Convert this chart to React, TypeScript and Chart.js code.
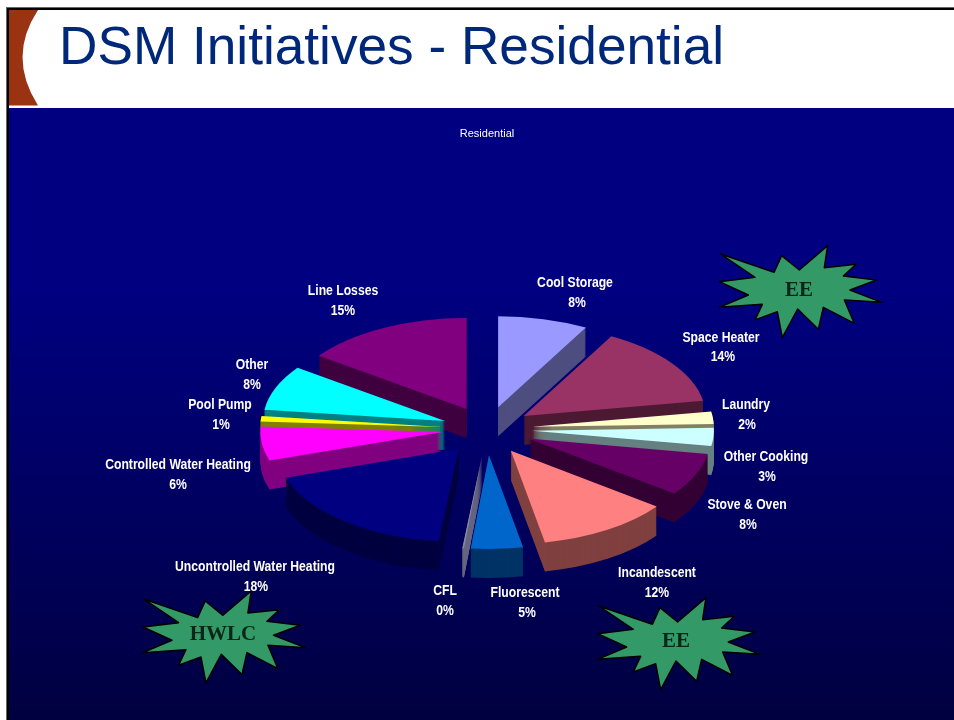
import React, { useEffect, useRef } from "react";
import { Chart, registerables } from "chart.js";

Chart.register(...registerables);

const categories = [
  "Cool Storage", "Space Heater", "Laundry", "Other Cooking", "Stove & Oven", "Incandescent",
  "Fluorescent", "CFL", "Uncontrolled Water Heating", "Controlled Water Heating", "Pool Pump", "Other", "Line Losses",
];
const shares = [8, 14.3, 2.2, 3.2, 7.5, 11.8, 4.6, 0.15, 18.2, 6, 1, 8, 15.05];
const percentLabels = ["8%", "14%", "2%", "3%", "8%", "12%", "5%", "0%", "18%", "6%", "1%", "8%", "15%"];
const topColors = ["#9999FF", "#993366", "#FFFFCC", "#CCFFFF", "#660066", "#FF8080", "#0066CC", "#8888AA", "#000080", "#FF00FF", "#FFFF00", "#00FFFF", "#800080"];
const wallColors = ["#4D4D80", "#4D1A33", "#808066", "#668080", "#330033", "#804040", "#003366", "#666680", "#000040", "#800080", "#808000", "#008080", "#400040"];

const labelNameAnchors = [
  [575, 283], [721, 338], [746, 405], [766, 457], [747, 505], [657, 573], [525, 593],
  [445, 591], [255, 567], [178, 465], [220, 405], [252, 365], [343, 291],
];
const labelPercentAnchors = [
  [577, 303], [723, 357], [747, 425], [767, 477], [748, 525], [657, 593], [527, 613],
  [445, 611], [256, 587], [178, 485], [221, 425], [252, 385], [343, 311],
];

const starOutline = [
  [62, 72], [222, 127], [245, 77], [298, 120], [383, 47], [373, 113], [468, 103], [430, 138], [530, 150], [450, 180],
  [545, 217], [433, 210], [463, 280], [370, 232], [355, 298], [293, 237], [247, 323], [232, 245], [165, 270], [187, 223],
  [58, 232], [145, 195], [58, 155], [165, 142],
];
const stars = [
  { text: "EE", dx: 0, dy: 0, tx: 799, ty: 291 },
  { text: "HWLC", dx: -576.4, dy: 345.3, tx: 223, ty: 635 },
  { text: "EE", dx: -121.7, dy: 352, tx: 676, ty: 642 },
];

const DEPTH = 29;
const EXPLODE = 45;

const wallOptions = (color: string) => ({
  backgroundColor: color, borderColor: color, borderWidth: 0, borderAlign: "center",
  borderRadius: 0, offset: 0, spacing: 0, circular: true, borderDash: [], borderDashOffset: 0, borderJoinStyle: "round",
});

const slidePlugin = {
  id: "slide",
  beforeDraw(chart: any) {
    const { ctx, width, height } = chart;
    ctx.save();
    ctx.fillStyle = "#ffffff";
    ctx.fillRect(0, 0, width, height);
    ctx.fillStyle = "#666666";
    ctx.fillRect(6, 7, width - 6, 1);
    ctx.fillRect(6, 7, 1, height - 7);
    ctx.fillStyle = "#000000";
    ctx.fillRect(7, 8, width - 7, 2);
    ctx.fillRect(7, 8, 2, height - 8);
    const g = ctx.createLinearGradient(0, 108, 0, 720);
    g.addColorStop(0, "#000080");
    g.addColorStop(0.3, "#000080");
    g.addColorStop(1, "#000040");
    ctx.fillStyle = g;
    ctx.fillRect(9, 108, width - 9, height - 108);
    ctx.fillStyle = "#993312";
    ctx.beginPath();
    ctx.moveTo(9, 10);
    ctx.lineTo(38, 10);
    ctx.quadraticCurveTo(7, 57, 38, 105.5);
    ctx.lineTo(9, 105.5);
    ctx.closePath();
    ctx.fill();
    ctx.fillStyle = "#00287A";
    ctx.font = "53.2px 'Liberation Sans'";
    ctx.textAlign = "left";
    ctx.textBaseline = "alphabetic";
    ctx.fillText("DSM Initiatives - Residential", 59, 64);
    ctx.restore();
  },
  beforeDatasetDraw() {
    return false;
  },
  afterDatasetsDraw(chart: any) {
    const { ctx } = chart;
    const arcs: any[] = chart.getDatasetMeta(0).data;
    const order = arcs
      .map((arc, i) => ({ arc, i, mid: (arc.startAngle + arc.endAngle) / 2 }))
      .sort((a, b) => Math.sin(a.mid) - Math.sin(b.mid));
    order.forEach(({ arc, i, mid }) => {
      const front = Math.max(0, Math.sin(mid));
      const ex = Math.cos(mid) * EXPLODE;
      const ey = Math.sin(mid) * EXPLODE * (0.5 + 0.08 * front);
      const squash = 0.5 + 0.015 * front;
      const place = (k: number) => {
        ctx.save();
        ctx.translate(arc.x + ex, arc.y + ey + k);
        ctx.scale(1, squash);
        ctx.translate(-arc.x, -arc.y);
        arc.draw(ctx);
        ctx.restore();
      };
      const own = arc.options;
      arc.options = wallOptions(wallColors[i]);
      for (let k = DEPTH; k >= 1; k--) place(k);
      arc.options = own;
      place(0);
    });
  },
  afterDraw(chart: any) {
    const { ctx } = chart;
    ctx.save();
    stars.forEach((s) => {
      ctx.beginPath();
      starOutline.forEach(([x, y], idx) => {
        const px = 700 + x / 3 + s.dx;
        const py = 230 + y / 3 + s.dy;
        if (idx === 0) ctx.moveTo(px, py);
        else ctx.lineTo(px, py);
      });
      ctx.closePath();
      ctx.fillStyle = "#339966";
      ctx.fill();
      ctx.lineWidth = 1.5;
      ctx.lineJoin = "round";
      ctx.strokeStyle = "#000000";
      ctx.stroke();
      ctx.fillStyle = "#06261A";
      ctx.font = "bold 21px 'Liberation Serif'";
      ctx.textAlign = "center";
      ctx.textBaseline = "middle";
      ctx.fillText(s.text, s.tx, s.ty);
    });
    const put = (text: string, x: number, y: number) => {
      ctx.save();
      ctx.translate(x, y);
      ctx.scale(0.87, 1);
      ctx.fillStyle = "#ffffff";
      ctx.font = "bold 14px 'Liberation Sans'";
      ctx.textAlign = "center";
      ctx.textBaseline = "middle";
      ctx.fillText(text, 0, 0);
      ctx.restore();
    };
    categories.forEach((name, i) => {
      put(name, labelNameAnchors[i][0], labelNameAnchors[i][1]);
      put(percentLabels[i], labelPercentAnchors[i][0], labelPercentAnchors[i][1]);
    });
    ctx.restore();
  },
};

export default function App() {
  const ref = useRef<HTMLCanvasElement>(null);
  useEffect(() => {
    const chart = new Chart(ref.current as HTMLCanvasElement, {
      type: "pie",
      data: {
        labels: categories,
        datasets: [{ data: shares, backgroundColor: topColors, borderWidth: 0 }],
      },
      options: {
        animation: false,
        responsive: false,
        events: [],
        radius: 182,
        layout: { padding: { left: 20, right: 0, top: 127, bottom: 2 } },
        plugins: {
          legend: { display: false },
          tooltip: { enabled: false },
          title: {
            display: true,
            text: "Residential",
            color: "#ffffff",
            font: { family: "'Liberation Sans'", size: 11, weight: "normal" },
            padding: 0,
          },
        },
      } as any,
      plugins: [slidePlugin as any],
    });
    return () => chart.destroy();
  }, []);
  return (
    <div style={{ position: "fixed", left: 0, top: 0, width: 954, height: 720, overflow: "hidden" }}>
      <canvas ref={ref} width={954} height={720} style={{ display: "block" }} />
    </div>
  );
}
